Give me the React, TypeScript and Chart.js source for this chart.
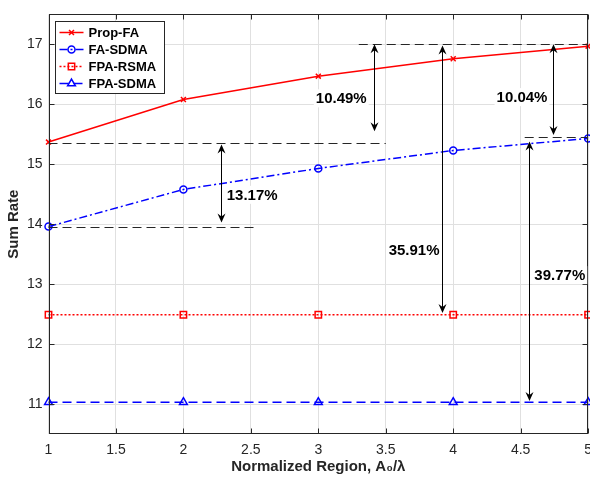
import React, { useEffect, useRef } from 'react';
import { Chart, registerables } from 'chart.js';
import { drawPoint } from 'chart.js/helpers';
Chart.register(...registerables);

const xValues = [1, 2, 3, 4, 5];
const propFA = [15.37, 16.08, 16.47, 16.76, 16.97];
const faSDMA = [13.96, 14.58, 14.93, 15.23, 15.43];
const fpaRSMA = [12.49, 12.49, 12.49, 12.49, 12.49];
const fpaSDMA = [11.03, 11.03, 11.03, 11.03, 11.03];
const seriesNames = ['Prop-FA', 'FA-SDMA', 'FPA-RSMA', 'FPA-SDMA'];
const xTicks = [1, 1.5, 2, 2.5, 3, 3.5, 4, 4.5, 5];
const yTicks = [11, 12, 13, 14, 15, 16, 17];
const xTitle = 'Normalized Region, A\u2080/\u03bb';
const yTitle = 'Sum Rate';

// annotation reference lines (data units)
const refLineY = [15.35, 13.96, 17.0, 15.45];
const refLineX1 = [1, 1, 3.3, 4.53];
const refLineX2 = [3.5, 2.52, 5, 5];
// gap arrows (data units)
const arrowX = [2.28, 3.41, 3.92, 4.74, 4.56];
const arrowTop = [15.33, 17.0, 16.98, 17.0, 15.38];
const arrowBottom = [14.03, 15.55, 12.52, 15.49, 11.05];
// gap labels
const gapLabels = ['13.17%', '10.49%', '35.91%', '10.04%', '39.77%'];
const gapLabelX = [2.51, 3.17, 3.71, 4.51, 4.79];
const gapLabelY = [14.49, 16.1, 13.58, 16.12, 13.15];

const FONT = '"Liberation Sans", Arial, Helvetica, sans-serif';
const AXIS = '#262626';

const framePlugin = {
  id: 'frame',
  afterDatasetsDraw(chart: any) {
    const { ctx, chartArea: a, scales } = chart;
    ctx.save();
    ctx.strokeStyle = AXIS;
    ctx.lineWidth = 1;
    const L = Math.round(a.left) + 0.5, R = Math.round(a.right) - 0.5;
    const T = Math.round(a.top) + 0.5, B = Math.round(a.bottom) - 0.5;
    ctx.strokeRect(L, T, R - L, B - T);
    ctx.beginPath();
    xTicks.forEach((v) => {
      const px = Math.round(scales.x.getPixelForValue(v)) + 0.5;
      ctx.moveTo(px, B); ctx.lineTo(px, B - 5);
      ctx.moveTo(px, T); ctx.lineTo(px, T + 5);
    });
    yTicks.forEach((v) => {
      const py = Math.round(scales.y.getPixelForValue(v)) + 0.5;
      ctx.moveTo(L, py); ctx.lineTo(L + 5, py);
      ctx.moveTo(R, py); ctx.lineTo(R - 5, py);
    });
    ctx.stroke();
    ctx.restore();
  },
};

function arrowHead(ctx: CanvasRenderingContext2D, x: number, y: number, dir: number) {
  const Lh = 9, W = 4, N = 6;
  ctx.beginPath();
  ctx.moveTo(x, y);
  ctx.lineTo(x - W, y - dir * Lh);
  ctx.lineTo(x, y - dir * N);
  ctx.lineTo(x + W, y - dir * Lh);
  ctx.closePath();
  ctx.fill();
}

const annotatePlugin = {
  id: 'annotate',
  afterDatasetsDraw(chart: any) {
    const { ctx, scales } = chart;
    const sx = scales.x, sy = scales.y;
    ctx.save();
    ctx.strokeStyle = '#262626';
    ctx.lineWidth = 1;
    ctx.setLineDash([9, 5]);
    refLineY.forEach((y, i) => {
      const py = Math.round(sy.getPixelForValue(y)) + 0.5;
      ctx.beginPath();
      ctx.moveTo(sx.getPixelForValue(refLineX1[i]), py);
      ctx.lineTo(sx.getPixelForValue(refLineX2[i]), py);
      ctx.stroke();
    });
    ctx.setLineDash([]);
    ctx.strokeStyle = '#000';
    ctx.fillStyle = '#000';
    arrowX.forEach((x, i) => {
      const px = Math.round(sx.getPixelForValue(x)) + 0.5;
      const t = sy.getPixelForValue(arrowTop[i]);
      const b = sy.getPixelForValue(arrowBottom[i]);
      ctx.beginPath();
      ctx.moveTo(px, t + 4);
      ctx.lineTo(px, b - 4);
      ctx.stroke();
      arrowHead(ctx, px, t, -1);
      arrowHead(ctx, px, b, 1);
    });
    ctx.font = `bold 15px ${FONT}`;
    ctx.textAlign = 'center';
    ctx.textBaseline = 'middle';
    gapLabels.forEach((txt, i) => {
      const px = sx.getPixelForValue(gapLabelX[i]);
      const py = sy.getPixelForValue(gapLabelY[i]);
      const w = ctx.measureText(txt).width;
      ctx.fillStyle = '#fff';
      ctx.fillRect(px - w / 2 - 2, py - 9, w + 4, 18);
      ctx.fillStyle = '#000';
      ctx.fillText(txt, px, py + 1);
    });
    ctx.restore();
  },
};

const legendPlugin = {
  id: 'customLegend',
  afterDraw(chart: any) {
    const { ctx, chartArea: a } = chart;
    const x0 = Math.round(a.left) + 6.5;
    const y0 = Math.round(a.top) + 7.5;
    const w = 109, h = 72;
    ctx.save();
    ctx.fillStyle = '#fff';
    ctx.fillRect(x0, y0, w, h);
    ctx.strokeStyle = AXIS;
    ctx.lineWidth = 1;
    ctx.strokeRect(x0, y0, w, h);
    chart.data.datasets.forEach((ds: any, i: number) => {
      const cy = y0 + 11 + i * 17;
      ctx.strokeStyle = ds.borderColor;
      ctx.lineWidth = ds.borderWidth;
      ctx.setLineDash(ds.borderDash || []);
      ctx.beginPath();
      ctx.moveTo(x0 + 4, cy);
      ctx.lineTo(x0 + 28, cy);
      ctx.stroke();
      ctx.setLineDash([]);
      ctx.fillStyle = 'rgba(0,0,0,0)';
      ctx.lineWidth = ds.pointBorderWidth;
      drawPoint(ctx, { pointStyle: ds.pointStyle, radius: ds.pointRadius, rotation: 0, borderWidth: ds.pointBorderWidth }, x0 + 16, cy);
      ctx.fillStyle = '#000';
      ctx.font = `bold 13px ${FONT}`;
      ctx.textAlign = 'left';
      ctx.textBaseline = 'middle';
      ctx.fillText(ds.label, x0 + 33, cy + 1);
    });
    ctx.restore();
  },
};

function mk(label: string, ys: number[], color: string, dash: number[], style: string, radius: number) {
  return {
    label,
    data: xValues.map((x, i) => ({ x, y: ys[i] })),
    borderColor: color,
    borderWidth: 1.5,
    borderDash: dash,
    pointStyle: style,
    pointRadius: radius,
    pointBorderColor: color,
    pointBorderWidth: 1.5,
    pointBackgroundColor: 'rgba(0,0,0,0)',
    backgroundColor: 'rgba(0,0,0,0)',
    fill: false,
    tension: 0,
    clip: false,
  };
}

export default function App() {
  const ref = useRef<HTMLCanvasElement>(null);
  useEffect(() => {
    const canvas = ref.current!;
    const chart = new Chart(canvas, {
      type: 'line',
      data: {
        datasets: [
          mk(seriesNames[0], propFA, '#ff0000', [], 'crossRot', 3.5),
          mk(seriesNames[1], faSDMA, '#0000ff', [8, 3, 2, 3], 'circle', 3.5),
          mk(seriesNames[2], fpaRSMA, '#ff0000', [2, 2], 'rect', 4.5),
          mk(seriesNames[3], fpaSDMA, '#0000ff', [9, 5], 'triangle', 4.5),
        ] as any,
      },
      options: {
        responsive: false,
        animation: false,
        devicePixelRatio: 1,
        layout: { padding: { top: 7, right: 11, left: 0, bottom: 0 } },
        plugins: { legend: { display: false }, tooltip: { enabled: false } },
        scales: {
          x: {
            type: 'linear',
            min: 1,
            max: 5,
            afterBuildTicks: (s: any) => { s.ticks = xTicks.map((v) => ({ value: v })); },
            afterFit: (s: any) => { s.height = 51; },
            ticks: { font: { family: FONT, size: 14 }, color: AXIS, padding: 8, maxRotation: 0, autoSkip: false, callback: (v: any) => String(v) },
            grid: { color: '#e0e0e0', drawTicks: false },
            border: { display: false },
            title: { display: true, text: xTitle, font: { family: FONT, size: 15, weight: 'bold' }, color: AXIS, padding: { top: 0, bottom: 9 } },
          },
          y: {
            type: 'linear',
            min: 10.5,
            max: 17.5,
            afterBuildTicks: (s: any) => { s.ticks = yTicks.map((v) => ({ value: v })); },
            afterFit: (s: any) => { s.width = 48.5; },
            ticks: { font: { family: FONT, size: 14 }, color: AXIS, padding: 6, autoSkip: false, callback: (v: any) => String(v) },
            grid: { color: '#e0e0e0', drawTicks: false },
            border: { display: false },
            title: { display: true, text: yTitle, font: { family: FONT, size: 15, weight: 'bold' }, color: AXIS, padding: { top: 5, bottom: 0 } },
          },
        },
      } as any,
      plugins: [framePlugin, annotatePlugin, legendPlugin],
    });
    return () => chart.destroy();
  }, []);
  return (
    <div style={{ position: 'fixed', left: 0, top: 0, width: 590, height: 485, overflow: 'hidden', background: '#fff' }}>
      <canvas ref={ref} width={600} height={485} style={{ width: 600, height: 485, display: 'block' }} />
    </div>
  );
}
